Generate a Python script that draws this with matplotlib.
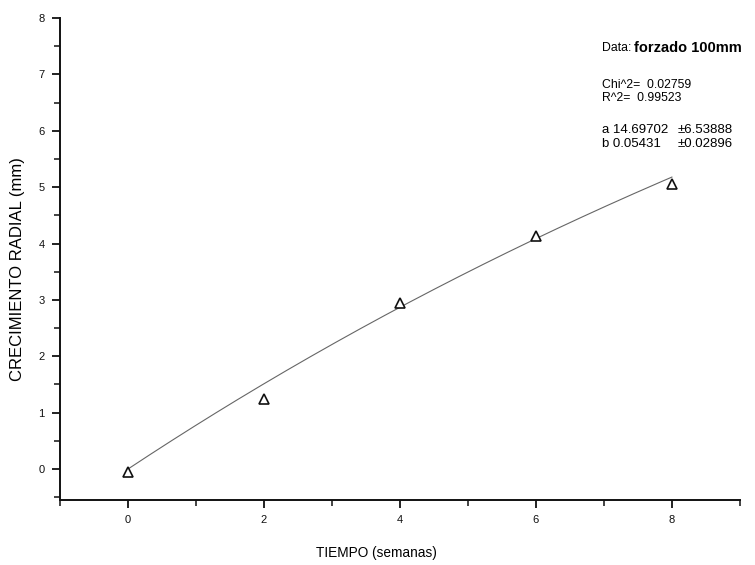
import numpy as np
import matplotlib
matplotlib.use("Agg")
import matplotlib.pyplot as plt
from matplotlib.ticker import MultipleLocator

plt.rcParams['font.family'] = ['Liberation Sans', 'DejaVu Sans']

# Measured radial growth
semanas = [0, 2, 4, 6, 8]
crecimiento = [-0.05, 1.24, 2.95, 4.13, 5.05]

# Fit y = a * (1 - exp(-b * x))
fit_a = 14.69702
fit_a_err = 6.53888
fit_b = 0.05431
fit_b_err = 0.02896
chi2 = 0.02759
r2 = 0.99523

W, H = 755, 565
fig = plt.figure(figsize=(W / 100, H / 100), dpi=100)
ax = fig.add_axes([0.0795, 0.115, 0.9005, 0.853])

xf = np.linspace(min(semanas), max(semanas), 200)
yf = fit_a * (1 - np.exp(-fit_b * xf))
ax.plot(xf, yf, color='#666666', lw=0.8)
ax.plot(semanas, crecimiento, linestyle='none', marker='^', markersize=7,
        markerfacecolor='white', markeredgecolor='#111111', markeredgewidth=1.2)

ax.set_xlim(-1, 9)
ax.set_ylim(-0.55, 8)
ax.xaxis.set_major_locator(MultipleLocator(2))
ax.xaxis.set_minor_locator(MultipleLocator(1))
ax.yaxis.set_major_locator(MultipleLocator(1))
ax.yaxis.set_minor_locator(MultipleLocator(0.5))

for s in ['top', 'right']:
    ax.spines[s].set_visible(False)
for s in ['left', 'bottom']:
    ax.spines[s].set_linewidth(1.4)
    ax.spines[s].set_color('#111111')

ax.tick_params(which='major', direction='out', length=6, width=1.3,
               labelsize=8, colors='#111111', pad=5)
ax.tick_params(which='minor', direction='out', length=4, width=1.1, colors='#111111')

ax.set_xlabel('TIEMPO (semanas)', fontsize=9.8)
ax.set_ylabel('CRECIMIENTO RADIAL (mm)', fontsize=12)
ax.xaxis.set_label_coords(0.465, -0.095)
ax.yaxis.set_label_coords(-0.051, 0.48)


def px(x, y):
    return x / W, 1 - y / H


fs = 8.8
x0 = 602
fig.text(*px(x0, 48), 'Data:', fontsize=fs, va='center', ha='left')
fig.text(*px(x0 + 32, 48), 'forzado 100mm', fontsize=10.5, fontweight='bold',
         va='center', ha='left')
fig.text(*px(x0, 85), f'Chi^2=  {chi2:.5f}', fontsize=fs, va='center', ha='left')
fig.text(*px(x0, 98), f'R^2=  {r2:.5f}', fontsize=fs, va='center', ha='left')
fig.text(*px(x0, 130), f'a {fit_a:.5f}', fontsize=9.5, va='center', ha='left')
fig.text(*px(x0 + 76, 130), f'\u00b1{fit_a_err:.5f}', fontsize=9.5, va='center', ha='left')
fig.text(*px(x0, 144), f'b {fit_b:.5f}', fontsize=9.5, va='center', ha='left')
fig.text(*px(x0 + 76, 144), f'\u00b1{fit_b_err:.5f}', fontsize=9.5, va='center', ha='left')

fig.savefig('out.png', dpi=100)
